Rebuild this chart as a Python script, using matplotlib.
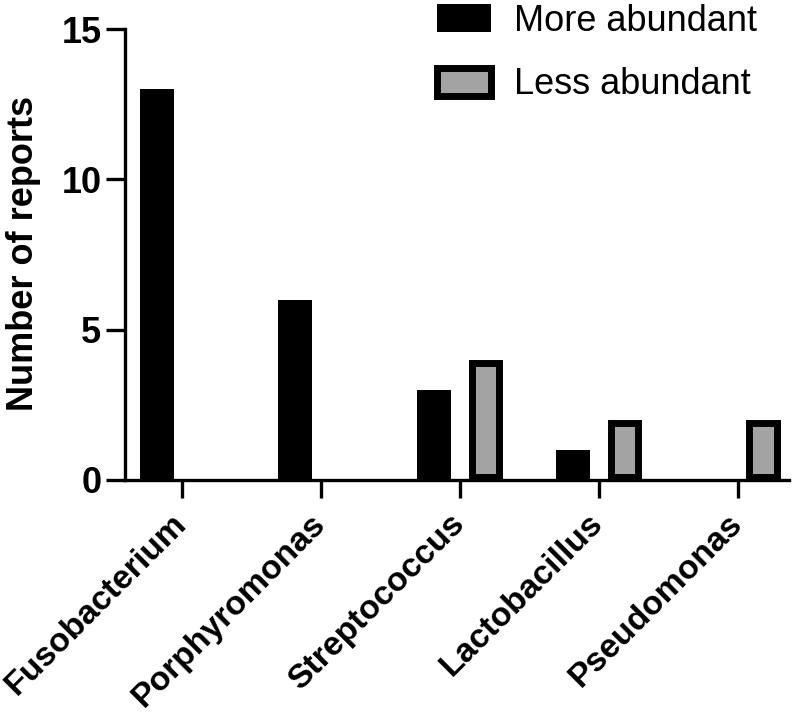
import numpy as np
import matplotlib.pyplot as plt
from matplotlib.patches import Patch

plt.rcParams['font.family'] = ['Liberation Sans', 'DejaVu Sans']

# data
categories = ['Fusobacterium', 'Porphyromonas', 'Streptococcus', 'Lactobacillus', 'Pseudomonas']
more_abundant = [13, 6, 3, 1, 0]
less_abundant = [0, 0, 4, 2, 2]
series_names = ['More abundant', 'Less abundant']

fig = plt.figure(figsize=(8, 7.15), dpi=100)
ax = fig.add_axes([0.15625, 0.3287, 0.83, 0.6307])

x = np.arange(len(categories))
w = 0.245
off = 0.183
lw = 5  # points, ~7 px
# keep the gray bars' outline inside the bar outline
half_x = (lw / 72 * 100) / 2 / 139.0
half_y = (lw / 72 * 100) / 2 / 30.07

ax.bar(x - off, more_abundant, w, color='black', linewidth=0)
less = np.array(less_abundant, dtype=float)
ax.bar(x + off, np.where(less > 0, less - 2 * half_y, 0), w - 2 * half_x, bottom=half_y,
       color='#a3a3a3', edgecolor='black',
       linewidth=[lw if v > 0 else 0 for v in less_abundant])

ax.set_xlim(-0.41, 4.37)
ax.set_ylim(0, 15)
ax.set_yticks([0, 5, 10, 15])
ax.set_xticks(x)
ax.set_xticklabels(categories, rotation=45, ha='right', va='center', rotation_mode='anchor',
                   fontsize=24.3, fontweight='bold')
for lab in ax.get_yticklabels():
    lab.set_fontsize(26)
    lab.set_fontweight('bold')

for s in ['top', 'right']:
    ax.spines[s].set_visible(False)
for s in ['left', 'bottom']:
    ax.spines[s].set_linewidth(2.4)
ax.tick_params(axis='y', length=14, width=2.4, pad=3)
ax.tick_params(axis='x', length=13, width=2.4, pad=15)

fig.text(0.03, 0.6455, 'Number of reports', rotation=90, ha='center', va='center',
         fontsize=26, fontweight='bold')

handles = [Patch(facecolor='black', edgecolor='black', linewidth=0),
           Patch(facecolor='#a3a3a3', edgecolor='black', linewidth=lw)]
fig.legend(handles, series_names, loc='upper left', bbox_to_anchor=(0.546, 0.995),
           frameon=False, fontsize=26, handlelength=1.5, handleheight=0.85,
           handletextpad=0.65, labelspacing=0.8, borderpad=0, borderaxespad=0)

fig.savefig('out.png', dpi=100)
